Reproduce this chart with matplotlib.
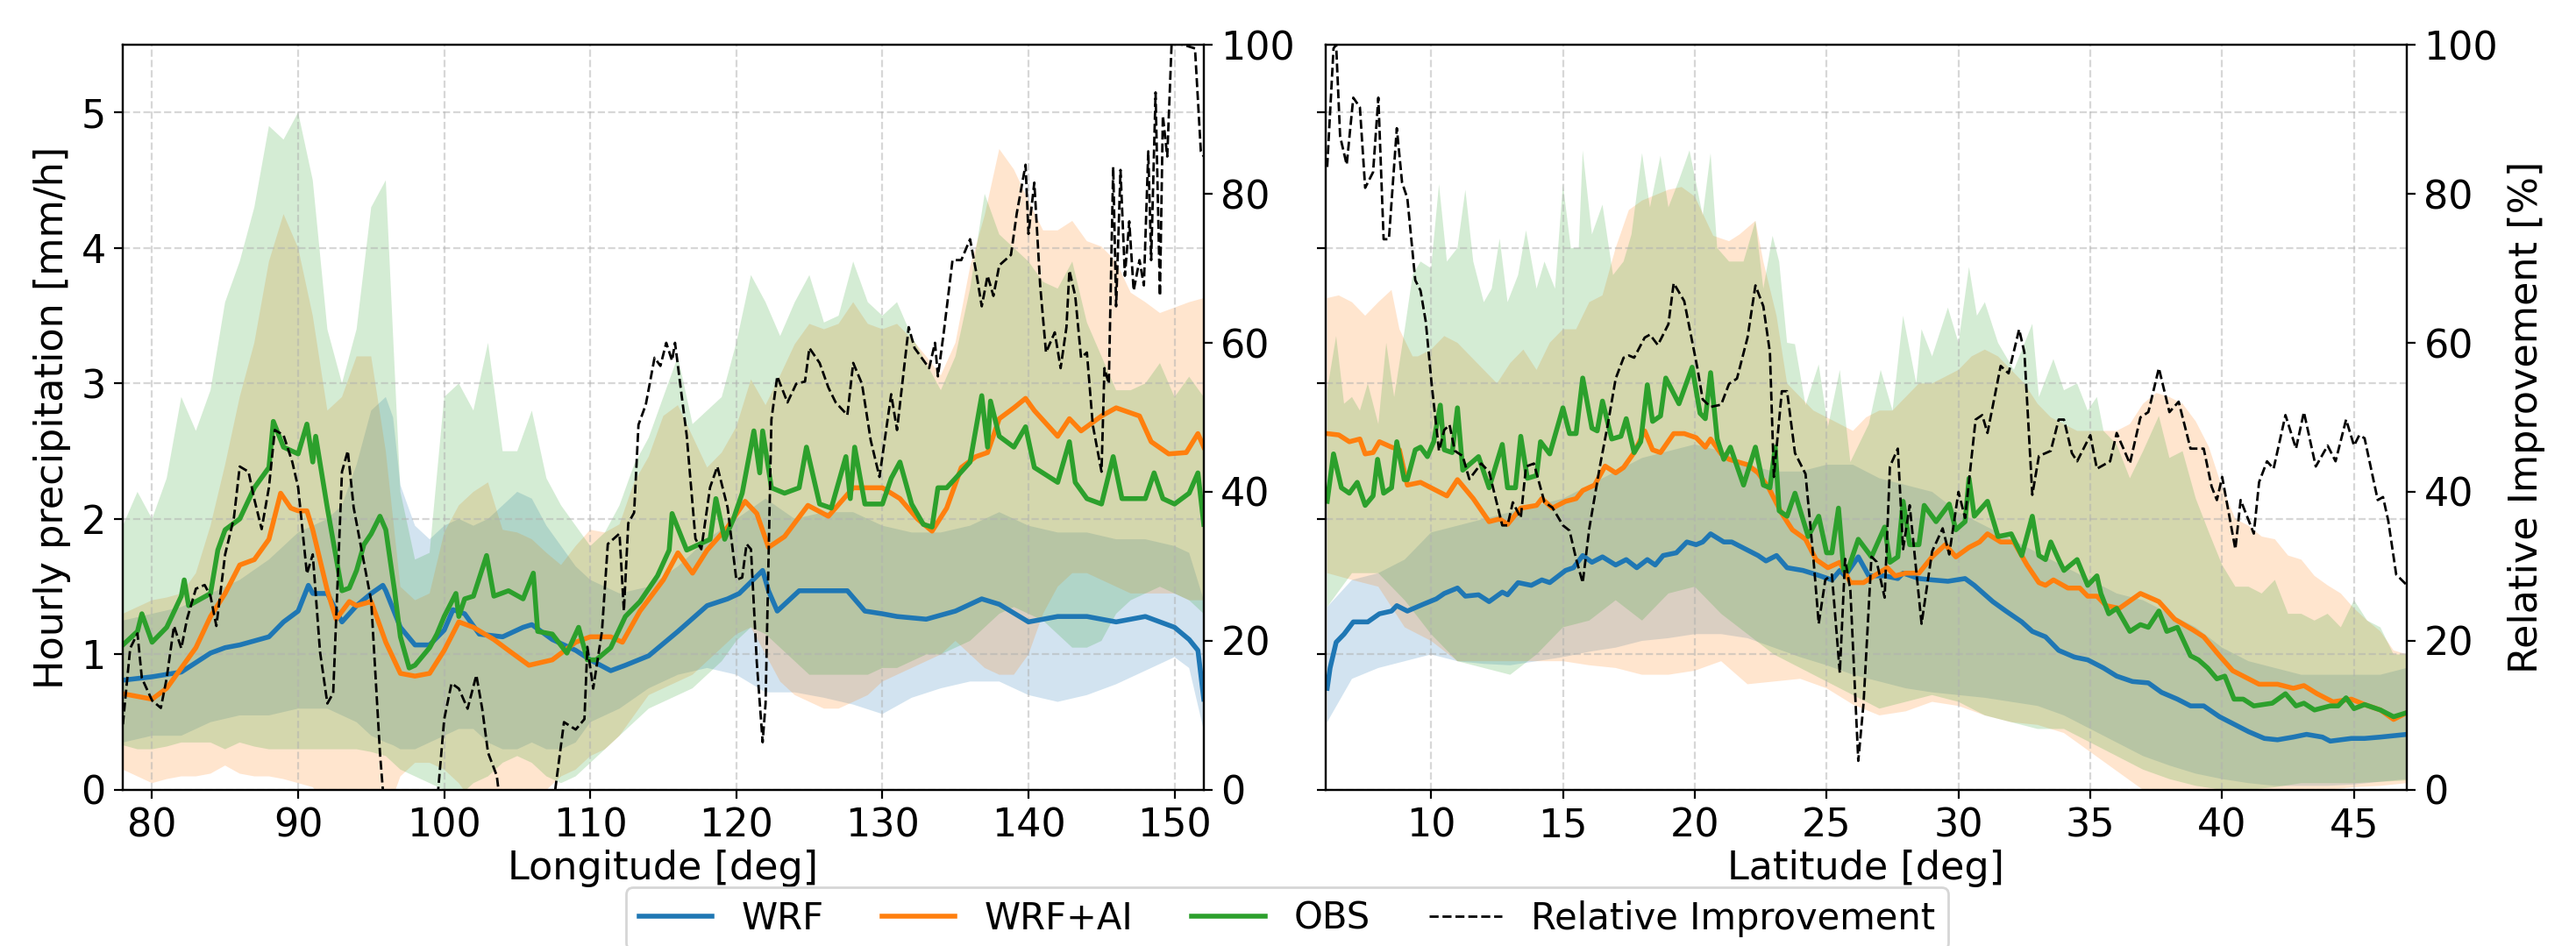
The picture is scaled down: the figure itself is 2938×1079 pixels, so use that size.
import numpy as np
import matplotlib
matplotlib.use("Agg")
import matplotlib.pyplot as plt

# ---- longitude panel: mean lines ----
lon_wrf = [78, 80, 82, 84, 85, 86, 88, 89, 90, 90.7, 91, 92, 93, 94, 95, 95.8, 96, 97, 98, 99,
           100, 100.6, 101.4, 102.4, 104, 105.4, 106, 107.4, 109, 110, 111.4, 112.4, 114, 116, 118, 119.4, 120.2, 121.8, 122.2, 122.8,
           124.3, 126, 127.6, 128.8, 130, 131, 133, 135, 136.8, 138, 140, 142, 144, 146, 148, 150, 151, 151.6, 152]
wrf_lon = [0.81, 0.835, 0.87, 1.01, 1.05, 1.07, 1.13, 1.24, 1.32, 1.51, 1.45, 1.45, 1.24, 1.36, 1.45, 1.51, 1.47, 1.20, 1.07, 1.07,
           1.18, 1.33, 1.30, 1.15, 1.13, 1.20, 1.22, 1.11, 1.03, 0.96, 0.88, 0.92, 0.99, 1.17, 1.36, 1.41, 1.45, 1.62, 1.47, 1.32,
           1.47, 1.47, 1.47, 1.32, 1.30, 1.28, 1.26, 1.32, 1.41, 1.37, 1.24, 1.28, 1.28, 1.24, 1.28, 1.20, 1.11, 1.03, 0.67]

lon_ai = [78, 80, 81, 82, 83, 84, 85, 86, 87, 88, 88.8, 89.5, 90, 90.6, 91, 92, 92.6, 93.5, 94, 95,
          96, 97, 98, 99, 100, 101, 102, 103.4, 104.4, 105.8, 107.4, 109, 110, 111.4, 112.2, 113.4, 115, 116, 117, 118,
          119.4, 120.6, 121.4, 122.2, 123.3, 124.9, 126.3, 128, 130, 131.2, 132.4, 133.4, 134.4, 135.4, 136.4, 137.2, 138, 139, 139.8, 140.4,
          142, 142.8, 143.6, 145, 146, 147.6, 148.4, 149.6, 150.8, 151.6, 152]
ai_lon = [0.71, 0.67, 0.75, 0.90, 1.05, 1.28, 1.45, 1.66, 1.70, 1.85, 2.19, 2.08, 2.06, 2.06, 1.92, 1.47, 1.26, 1.39, 1.36, 1.39,
          1.09, 0.86, 0.84, 0.86, 1.03, 1.24, 1.20, 1.11, 1.03, 0.92, 0.96, 1.09, 1.13, 1.13, 1.09, 1.32, 1.55, 1.75, 1.60, 1.77,
          1.94, 2.13, 2.04, 1.79, 1.87, 2.10, 2.02, 2.23, 2.23, 2.15, 2.00, 1.91, 2.08, 2.38, 2.46, 2.49, 2.74, 2.82, 2.89, 2.80,
          2.61, 2.74, 2.65, 2.76, 2.82, 2.76, 2.57, 2.48, 2.49, 2.63, 2.53]

lon_obs = [78, 79, 79.3, 80, 81, 82, 82.2, 82.5, 83, 84, 84.5, 85, 86, 87, 88, 88.3, 89, 90, 90.6, 91,
           91.2, 92, 93, 93.5, 94, 94.5, 95, 95.6, 96, 96.6, 97, 97.6, 98, 99, 99.5, 100, 100.8, 101, 101.4, 102,
           102.9, 103.4, 104.4, 105.4, 106.1, 106.4, 107.4, 108.4, 109.2, 109.8, 110.4, 111.4, 112.4, 113.4, 114.6, 115.4, 115.6, 116.6, 117.4, 118.2,
           118.6, 119.2, 119.8, 120.4, 121.2, 121.6, 121.8, 122.4, 123.3, 124.3, 124.8, 125.7, 126.5, 127.5, 127.8, 128.1, 128.8, 130, 130.6, 131.2,
           132, 132.8, 133.4, 133.8, 134.4, 135, 136, 136.8, 137.2, 137.4, 138, 139, 139.8, 140.4, 142, 142.8, 143.2, 144, 145, 145.8,
           146.4, 148, 148.6, 149.2, 150, 151, 151.6, 152]
obs_lon = [1.07, 1.17, 1.30, 1.09, 1.20, 1.43, 1.55, 1.36, 1.39, 1.45, 1.77, 1.92, 2.00, 2.23, 2.38, 2.72, 2.53, 2.48, 2.70, 2.42,
           2.61, 2.08, 1.47, 1.49, 1.62, 1.81, 1.89, 2.02, 1.92, 1.47, 1.13, 0.90, 0.92, 1.05, 1.15, 1.28, 1.45, 1.28, 1.41, 1.43,
           1.73, 1.43, 1.47, 1.41, 1.60, 1.17, 1.15, 1.01, 1.20, 0.96, 0.96, 1.05, 1.28, 1.39, 1.58, 1.77, 2.04, 1.77, 1.81, 1.85,
           2.15, 1.85, 2.00, 2.19, 2.65, 2.34, 2.65, 2.23, 2.19, 2.23, 2.53, 2.11, 2.08, 2.46, 2.15, 2.53, 2.11, 2.11, 2.30, 2.42,
           2.11, 1.96, 1.94, 2.23, 2.23, 2.30, 2.42, 2.91, 2.53, 2.87, 2.61, 2.53, 2.68, 2.38, 2.27, 2.57, 2.27, 2.15, 2.11, 2.46,
           2.15, 2.15, 2.34, 2.15, 2.11, 2.19, 2.34, 1.96]

lon_ri = [78, 78.5, 79, 79.3, 80, 80.6, 81, 81.5, 82, 82.4, 83, 83.6, 84, 84.4, 85, 85.6, 86, 86.6, 87, 87.5,
          88, 88.4, 89, 89.6, 90, 90.6, 91, 91.5, 92, 92.4, 93, 93.4, 93.8, 94.4, 95, 95.6, 96.2, 98, 99.5, 100,
          100.5, 101, 101.6, 102.2, 102.6, 103, 103.6, 104.2, 107.4, 108.2, 109, 109.6, 109.8, 110.2, 110.8, 111.2, 112, 112.3, 112.6, 113,
          113.3, 113.8, 114.4, 114.8, 115.2, 115.6, 115.8, 116.2, 116.6, 117.2, 117.6, 118.2, 118.7, 119.4, 120, 120.4, 120.7, 121, 121.4, 121.8,
          122, 122.4, 122.8, 123.5, 124.1, 124.7, 125, 125.7, 126.3, 126.8, 127.6, 128, 128.6, 129.2, 129.8, 130.6, 131, 131.8, 132.2, 133.2,
          133.6, 133.8, 134.2, 134.8, 135.4, 136, 136.4, 136.8, 137.2, 137.6, 138, 138.8, 139.2, 139.8, 140, 140.4, 140.8, 141.2, 141.8, 142.2,
          142.6, 142.8, 143.2, 143.6, 144, 144.4, 145, 145.2, 145.5, 145.8, 146, 146.3, 146.6, 146.9, 147.2, 147.6, 147.9, 148.2, 148.4, 148.7,
          149, 149.2, 149.5, 149.8, 150.6, 151.4, 151.8, 152]
ri_lon = [8.8, 19, 21, 15, 12, 11, 15, 22, 19, 23, 27, 27.5, 26, 22, 31.6, 36.5, 43.4, 42.7, 39, 35,
          40.6, 48.3, 47.6, 44, 40.6, 29, 31.6, 18.5, 11.6, 13, 42.7, 45.5, 37.9, 31.6, 25.4, 5, -10, -15, -2, 9.5,
          14.3, 13.6, 10.9, 15.4, 10.9, 5, 1.9, -8, -3, 9.1, 8.1, 9.5, 19.2, 13.6, 21.3, 33, 34.4, 24, 35.8, 37.2,
          49, 51.7, 58, 56.9, 60, 57.6, 60, 53.8, 47.6, 33.7, 32.3, 40.6, 43.4, 37.9, 28.2, 28.5, 33, 32.3, 17.1, 6.4,
          11.6, 49.7, 55.5, 52, 54.5, 54.8, 59.3, 57.3, 54, 52, 50.3, 57.3, 54.5, 46.9, 42, 53.1, 48.3, 62.1, 59.3, 56.6,
          60, 55.5, 61.4, 71.1, 71.1, 73.9, 69.7, 64.9, 69, 66.3, 70.4, 71.8, 77.4, 83.9, 74.6, 81.5, 67.7, 58.7, 61.4, 56.6,
          62.1, 69.7, 66.3, 58, 58.7, 49, 42.7, 56.6, 54.5, 83.6, 64.9, 83.2, 69, 76.3, 67, 71.1, 67.7, 85.7, 71.1, 93.6,
          66.3, 90.5, 85, 100.2, 100, 99.5, 85.7, 85]

# ---- longitude panel: spread bands ----
band_lon = list(range(78, 153))
obs_up_lon = [1.95, 2.2, 2.0, 2.3, 2.9, 2.65, 2.95, 3.6, 3.9, 4.3, 4.9, 4.8, 5.0, 4.5, 3.4, 3.0, 3.4, 4.3, 4.5, 2.2,
              1.7, 1.75, 2.9, 3.0, 2.8, 3.3, 2.5, 2.5, 2.8, 2.3, 2.1, 1.95, 1.8, 1.9, 2.1, 2.4, 2.6, 2.9, 3.2, 2.7,
              2.8, 2.9, 3.3, 3.8, 3.6, 3.35, 3.6, 3.8, 3.45, 3.5, 3.9, 3.6, 3.5, 3.6, 3.35, 3.15, 2.95, 3.2, 3.7, 4.4,
              4.1, 4.0, 3.9, 3.75, 3.7, 3.9, 3.45, 3.2, 2.95, 2.95, 3.0, 3.15, 2.9, 3.05, 2.9]
obs_lo_lon = [0.33, 0.3, 0.3, 0.32, 0.35, 0.35, 0.35, 0.3, 0.35, 0.32, 0.3, 0.3, 0.3, 0.3, 0.3, 0.3, 0.3, 0.28, 0.25, 0.15,
              0.1, 0.05, 0.0, -0.05, 0.05, 0.1, 0.2, 0.25, 0.2, 0.1, 0.05, 0.1, 0.2, 0.3, 0.4, 0.5, 0.6, 0.65, 0.7, 0.75,
              0.85, 0.95, 1.1, 1.2, 1.15, 1.05, 0.95, 0.85, 0.85, 0.85, 0.85, 0.85, 0.9, 0.9, 0.95, 1.0, 1.0, 1.05, 1.1, 1.2,
              1.3, 1.35, 1.3, 1.25, 1.15, 1.05, 1.05, 1.1, 1.3, 1.4, 1.45, 1.5, 1.45, 1.4, 1.3]
ai_up_lon = [1.3, 1.35, 1.4, 1.42, 1.45, 1.6, 1.95, 2.4, 2.9, 3.3, 3.9, 4.25, 4.0, 3.5, 2.8, 2.9, 3.2, 3.2, 2.5, 1.5,
             1.4, 1.45, 1.9, 2.1, 2.2, 2.27, 1.92, 1.9, 1.85, 1.75, 1.66, 1.8, 1.92, 1.9, 1.96, 2.27, 2.46, 2.76, 2.84, 2.61,
             2.38, 2.49, 2.68, 3.03, 2.84, 3.06, 3.29, 3.44, 3.4, 3.44, 3.6, 3.44, 3.4, 3.44, 3.33, 3.2, 3.06, 3.3, 3.86, 4.24,
             4.73, 4.58, 4.35, 4.13, 4.13, 4.2, 4.05, 4.01, 3.9, 3.67, 3.6, 3.52, 3.56, 3.6, 3.63]
ai_lo_lon = [0.15, 0.1, 0.05, 0.08, 0.1, 0.1, 0.12, 0.18, 0.12, 0.1, 0.1, 0.08, 0.05, 0.02, -0.1, -0.2, -0.2, -0.2, -0.2, 0.1,
             0.2, 0.2, 0.15, 0.05, -0.1, -0.2, -0.2, -0.15, -0.1, 0.0, 0.1, 0.15, 0.25, 0.3, 0.4, 0.55, 0.7, 0.75, 0.8, 0.85,
             0.95, 1.05, 1.15, 1.2, 1.0, 0.8, 0.7, 0.65, 0.6, 0.6, 0.65, 0.7, 0.8, 0.85, 0.9, 0.95, 1.0, 1.1, 1.0, 0.9,
             0.85, 0.85, 1.0, 1.3, 1.5, 1.6, 1.6, 1.55, 1.5, 1.45, 1.45, 1.45, 1.45, 1.4, 1.4]
band_lon_wrf = [78, 80, 82, 84, 86, 88, 90, 92, 93, 94, 95, 96, 96.5, 97, 98, 99, 100, 101, 102, 103,
                104, 105, 106, 107, 108, 109, 110, 112, 114, 116, 118, 120, 122, 124, 126, 128, 130, 132, 134, 136,
                138, 140, 142, 144, 146, 148, 150, 151, 152]
wrf_up_lon = [1.25, 1.3, 1.35, 1.45, 1.55, 1.7, 1.9, 2.0, 2.1, 2.4, 2.8, 2.9, 2.75, 2.25, 1.95, 1.85, 1.95, 2.0, 1.95, 2.0,
              2.1, 2.2, 2.15, 1.95, 1.8, 1.65, 1.55, 1.45, 1.5, 1.65, 1.85, 2.0, 2.15, 2.0, 2.05, 2.05, 1.95, 1.9, 1.9, 1.95,
              2.05, 1.95, 1.9, 1.9, 1.85, 1.85, 1.8, 1.75, 1.4]
wrf_lo_lon = [0.35, 0.4, 0.4, 0.5, 0.55, 0.55, 0.6, 0.6, 0.55, 0.5, 0.4, 0.35, 0.33, 0.3, 0.3, 0.35, 0.4, 0.45, 0.45, 0.35,
              0.3, 0.3, 0.35, 0.3, 0.3, 0.35, 0.5, 0.6, 0.75, 0.85, 0.9, 0.85, 0.72, 0.72, 0.68, 0.63, 0.56, 0.68, 0.75, 0.8,
              0.8, 0.7, 0.65, 0.7, 0.78, 0.88, 0.98, 0.9, 0.44]

# ---- latitude panel: mean lines ----
lat_wrf = [6.06, 6.17, 6.4, 6.7, 7.05, 7.6, 8.04, 8.5, 8.7, 9.1, 9.7, 10.2, 10.5, 11, 11.3, 11.8, 12.2, 12.7, 12.9, 13.3,
           13.8, 14.2, 14.5, 15.1, 15.4, 15.75, 16.1, 16.5, 17, 17.4, 17.8, 18.2, 18.5, 18.8, 19.3, 19.7, 20.05, 20.3, 20.6, 21.1,
           21.4, 22, 22.4, 22.7, 23.1, 23.5, 24.1, 24.6, 25.2, 25.5, 25.7, 26.2, 26.6, 27.2, 27.7, 27.9, 28.5, 29, 29.6, 30.25,
           30.6, 31.3, 31.8, 32.4, 32.8, 33.3, 33.8, 34.4, 34.9, 35.5, 36, 36.6, 37.2, 37.7, 38.3, 38.8, 39.3, 39.9, 40.5, 41,
           41.6, 42.1, 42.7, 43.2, 43.8, 44.1, 44.9, 45.4, 46, 47]
wrf_lat = [0.75, 0.90, 1.09, 1.15, 1.24, 1.24, 1.30, 1.32, 1.36, 1.32, 1.37, 1.41, 1.45, 1.49, 1.43, 1.44, 1.39, 1.46, 1.44, 1.53,
           1.51, 1.55, 1.53, 1.62, 1.64, 1.73, 1.68, 1.72, 1.66, 1.70, 1.64, 1.70, 1.66, 1.73, 1.75, 1.83, 1.81, 1.83, 1.89, 1.83,
           1.83, 1.77, 1.73, 1.69, 1.73, 1.64, 1.62, 1.59, 1.55, 1.62, 1.58, 1.72, 1.58, 1.58, 1.56, 1.60, 1.56, 1.55, 1.54, 1.56,
           1.51, 1.39, 1.32, 1.24, 1.17, 1.13, 1.03, 0.98, 0.96, 0.90, 0.84, 0.80, 0.79, 0.72, 0.67, 0.62, 0.62, 0.54, 0.48, 0.43,
           0.38, 0.37, 0.39, 0.41, 0.39, 0.36, 0.38, 0.38, 0.39, 0.41]

lat_ai = [6.06, 6.5, 6.9, 7.3, 7.5, 7.8, 8.04, 8.5, 8.8, 9.1, 9.6, 10, 10.6, 11, 11.6, 12.2, 12.6, 12.9, 13.4, 14,
          14.2, 14.6, 15.1, 15.5, 15.75, 16.2, 16.6, 17, 17.3, 17.7, 18.1, 18.4, 18.7, 19.2, 19.6, 20.05, 20.4, 20.6, 21, 21.3,
          22, 22.4, 22.8, 23.3, 23.7, 24.2, 24.6, 25.05, 25.5, 25.9, 26.4, 26.8, 27.3, 27.6, 28, 28.5, 29, 29.5, 29.9, 30.4,
          30.8, 31.1, 31.6, 32.1, 32.6, 33.05, 33.3, 33.6, 34.15, 34.6, 34.9, 35.25, 35.6, 36.1, 36.9, 37.6, 38.2, 38.9, 39.3, 39.9,
          40.4, 41, 41.4, 42.1, 42.7, 43.1, 43.6, 44.2, 44.9, 45.4, 46, 46.5, 47]
ai_lat = [2.63, 2.62, 2.57, 2.59, 2.48, 2.49, 2.57, 2.53, 2.51, 2.25, 2.27, 2.23, 2.17, 2.29, 2.15, 1.98, 2.0, 1.96, 2.08, 2.10,
          2.15, 2.08, 2.13, 2.15, 2.21, 2.25, 2.39, 2.34, 2.38, 2.49, 2.65, 2.51, 2.49, 2.63, 2.63, 2.60, 2.53, 2.59, 2.48, 2.44,
          2.40, 2.34, 2.23, 2.04, 1.92, 1.85, 1.70, 1.64, 1.68, 1.53, 1.53, 1.58, 1.64, 1.58, 1.60, 1.60, 1.72, 1.81, 1.72, 1.79,
          1.83, 1.89, 1.83, 1.83, 1.66, 1.53, 1.51, 1.55, 1.49, 1.49, 1.43, 1.43, 1.36, 1.34, 1.45, 1.39, 1.26, 1.18, 1.13, 0.99,
          0.88, 0.82, 0.78, 0.78, 0.75, 0.77, 0.71, 0.65, 0.67, 0.63, 0.59, 0.52, 0.57]

lat_obs = [6.06, 6.3, 6.6, 6.9, 7.2, 7.5, 7.8, 7.97, 8.2, 8.5, 8.7, 8.98, 9.1, 9.4, 9.6, 9.86, 10.1, 10.35, 10.5, 10.8,
           11.0, 11.2, 11.8, 12.2, 12.7, 12.9, 13.2, 13.4, 13.65, 14.0, 14.15, 14.5, 15.0, 15.25, 15.5, 15.75, 16.1, 16.3, 16.5, 16.85,
           17.2, 17.4, 17.7, 17.95, 18.2, 18.4, 18.7, 18.9, 19.4, 19.9, 20.2, 20.4, 20.6, 20.85, 21.1, 21.35, 21.85, 22.3, 22.6, 22.85,
           23.05, 23.2, 23.5, 23.8, 24.3, 24.7, 25.0, 25.2, 25.45, 25.65, 25.8, 26.2, 26.7, 27.2, 27.4, 27.7, 27.9, 28.15, 28.5, 28.7,
           29.15, 29.65, 29.9, 30.25, 30.4, 30.6, 31.1, 31.5, 32.0, 32.4, 32.8, 33.05, 33.3, 33.5, 33.8, 34.0, 34.5, 34.9, 35.25, 35.4,
           35.7, 36.0, 36.5, 36.9, 37.2, 37.6, 37.9, 38.3, 38.8, 39.1, 39.45, 39.8, 40.1, 40.45, 40.8, 41.2, 41.9, 42.4, 42.8, 43.1,
           43.5, 44.1, 44.4, 44.7, 45.0, 45.4, 46.0, 46.5, 47.0]
obs_lat = [2.13, 2.48, 2.23, 2.19, 2.27, 2.10, 2.17, 2.44, 2.19, 2.23, 2.57, 2.29, 2.29, 2.51, 2.53, 2.46, 2.57, 2.84, 2.51, 2.49,
           2.82, 2.36, 2.46, 2.23, 2.55, 2.23, 2.23, 2.61, 2.30, 2.32, 2.57, 2.48, 2.82, 2.63, 2.63, 3.04, 2.67, 2.65, 2.87, 2.59,
           2.61, 2.74, 2.49, 2.57, 2.99, 2.72, 2.76, 3.04, 2.85, 3.12, 2.78, 2.74, 3.08, 2.59, 2.44, 2.53, 2.25, 2.53, 2.25, 2.23,
           2.53, 2.06, 2.02, 2.19, 1.87, 2.02, 1.75, 1.75, 2.08, 1.62, 1.62, 1.85, 1.72, 1.94, 1.68, 1.72, 2.13, 1.81, 1.81, 2.10,
           1.98, 2.11, 1.92, 1.98, 2.30, 2.02, 2.13, 1.87, 1.89, 1.73, 2.02, 1.73, 1.70, 1.83, 1.70, 1.62, 1.70, 1.51, 1.58, 1.45,
           1.30, 1.34, 1.17, 1.22, 1.20, 1.32, 1.17, 1.20, 0.99, 0.96, 0.90, 0.82, 0.84, 0.67, 0.67, 0.62, 0.64, 0.71, 0.62, 0.64,
           0.59, 0.62, 0.62, 0.68, 0.60, 0.63, 0.59, 0.54, 0.57]

lat_ri = [6.06, 6.3, 6.4, 6.55, 6.8, 7.05, 7.3, 7.5, 7.8, 8.0, 8.2, 8.4, 8.7, 8.9, 9.1, 9.4, 9.6, 9.8, 10.02, 10.3,
          10.5, 10.7, 10.9, 11.2, 11.45, 11.9, 12.2, 12.7, 12.9, 13.1, 13.4, 13.6, 13.9, 14.3, 14.6, 15.0, 15.25, 15.5, 15.75, 16.0,
          16.4, 16.7, 17.0, 17.3, 17.5, 17.7, 18.1, 18.3, 18.6, 19.0, 19.2, 19.6, 20.1, 20.3, 20.6, 21.0, 21.3, 21.6, 22.0, 22.3,
          22.6, 22.85, 23.0, 23.3, 23.5, 23.8, 24.2, 24.5, 24.7, 24.95, 25.2, 25.5, 25.7, 25.9, 26.2, 26.4, 26.7, 26.9, 27.2, 27.4,
          27.7, 27.9, 28.15, 28.6, 29.0, 29.4, 29.65, 30.0, 30.25, 30.65, 30.9, 31.1, 31.6, 31.9, 32.3, 32.5, 32.8, 33.05, 33.5, 33.8,
          34.0, 34.3, 34.5, 35.0, 35.25, 35.75, 36.0, 36.5, 36.9, 37.2, 37.6, 38.0, 38.35, 38.8, 39.3, 39.6, 39.8, 40.0, 40.5, 40.7,
          41.2, 41.4, 41.7, 41.95, 42.4, 42.8, 43.1, 43.55, 44.0, 44.3, 44.7, 45.0, 45.2, 45.4, 45.9, 46.1, 46.3, 46.6, 47.0]
ri_lat = [83.6, 99.5, 100, 87.7, 83.9, 92.9, 91.6, 80.8, 82.9, 92.9, 73.9, 73.9, 88.8, 81.5, 79.4, 68.4, 67, 62.8, 54.5, 45.5,
          48.3, 49, 45.5, 44.8, 41.7, 43.8, 42.7, 35.5, 35.5, 38.6, 36.5, 43.4, 43.8, 38.6, 37.9, 35.5, 34.8, 31, 27.8, 35.1,
          43.4, 49, 55.2, 58, 58.3, 58, 60.7, 61.1, 59.7, 62.5, 68, 65.6, 56.6, 52.4, 51.4, 51.7, 54.5, 55.2, 60.7, 67.7,
          64.9, 58.7, 42, 53.5, 53.5, 45.2, 42.4, 31, 22.3, 28.2, 28.9, 15.7, 31, 26.8, 3.9, 11.6, 31.3, 30.6, 25.8, 43.4,
          45.8, 32.3, 38.2, 22.3, 32, 35.1, 31.6, 40, 36.5, 49.7, 50.3, 47.9, 56.9, 55.9, 61.8, 58.7, 39.6, 44.8, 45.5, 49.7,
          49.7, 45.2, 44.1, 47.6, 43.1, 44.1, 47.9, 43.8, 50, 50.7, 56.6, 50.7, 52.1, 45.8, 45.8, 40.7, 38.9, 42, 32.3, 38.9,
          34.4, 41.3, 44.1, 43.1, 50.3, 45.8, 50.7, 43.4, 46.2, 44.1, 49.7, 46.2, 47.6, 47.2, 38.9, 39.3, 36.1, 28.9, 27.5]

# ---- latitude panel: spread bands ----
lat_obs_up = [6.06, 6.4, 6.7, 7.0, 7.3, 7.6, 8.0, 8.3, 8.6, 9.0, 9.3, 9.6, 10.0, 10.3, 10.6, 11.0, 11.3, 11.6, 12.0, 12.3,
              12.6, 12.9, 13.3, 13.6, 14.0, 14.3, 14.7, 15.0, 15.3, 15.6, 15.75, 16.1, 16.5, 16.9, 17.3, 17.6, 18.0, 18.3, 18.7, 19.0,
              19.4, 19.8, 20.3, 20.6, 20.85, 21.3, 21.85, 22.3, 22.6, 22.95, 23.2, 23.5, 23.8, 24.2, 24.7, 25.05, 25.5, 25.9, 26.6, 27.05,
              27.5, 27.9, 28.4, 28.6, 29.0, 29.6, 30.0, 30.4, 30.7, 31.0, 31.5, 32.1, 32.8, 33.05, 33.6, 34.0, 34.5, 34.9, 35.25, 35.5,
              36.0, 36.5, 37.0, 37.6, 38.0, 38.5, 39.0, 39.5, 40.0, 40.5, 41.0, 41.5, 42.0, 42.5, 43.0, 43.5, 44.0, 44.5, 45.0, 45.5,
              46.0, 46.5, 47.0]
obs_up_lat = [2.95, 3.35, 2.85, 2.9, 2.8, 3.0, 2.7, 3.3, 2.9, 3.4, 3.8, 3.9, 3.85, 4.47, 3.9, 4.0, 4.43, 3.9, 3.6, 3.7,
              4.07, 3.6, 3.8, 4.13, 3.7, 3.9, 3.7, 4.47, 4.0, 4.0, 4.72, 4.1, 4.32, 3.8, 3.9, 4.1, 4.7, 4.3, 4.68, 4.3,
              4.5, 4.72, 4.24, 4.7, 4.0, 3.9, 3.9, 4.2, 3.7, 4.09, 3.9, 3.3, 3.29, 2.84, 3.14, 2.68, 3.1, 2.42, 2.7, 3.1,
              2.8, 3.5, 3.0, 3.4, 3.2, 3.56, 3.3, 3.86, 3.5, 3.6, 3.3, 3.1, 3.44, 2.9, 3.18, 2.95, 3.0, 2.8, 2.9, 2.65,
              2.55, 2.3, 2.5, 2.76, 2.45, 2.5, 2.15, 1.9, 1.66, 1.5, 1.5, 1.45, 1.55, 1.3, 1.3, 1.25, 1.3, 1.2, 1.4, 1.25,
              1.2, 1.0, 1.0]
lat_ai_up = [6.06, 6.5, 7.0, 7.5, 8.0, 8.5, 8.8, 9.3, 9.5, 10.0, 10.5, 11.0, 11.5, 12.0, 12.5, 13.0, 13.5, 14.0, 14.5, 15.0,
             15.5, 16.0, 16.5, 17.0, 17.5, 18.0, 18.5, 19.0, 19.5, 20.0, 20.7, 21.3, 21.7, 22.3, 22.6, 23.1, 23.5, 24.0, 24.5, 25.0,
             25.5, 26.0, 26.5, 27.0, 27.5, 28.0, 28.5, 29.0, 29.5, 30.0, 30.5, 31.0, 31.5, 32.0, 32.5, 33.0, 33.5, 34.0, 34.5, 35.0,
             35.5, 36.0, 36.5, 37.0, 37.5, 38.0, 38.5, 39.0, 39.5, 40.0, 40.5, 41.0, 41.5, 42.0, 42.5, 43.0, 43.5, 44.0, 44.5, 45.0,
             45.5, 46.0, 46.5, 47.0]
ai_up_lat = [3.63, 3.65, 3.6, 3.5, 3.6, 3.69, 3.4, 3.2, 3.2, 3.25, 3.35, 3.3, 3.2, 3.1, 3.0, 3.15, 3.25, 3.1, 3.3, 3.4,
             3.4, 3.6, 3.65, 4.0, 4.28, 4.35, 4.39, 4.43, 4.45, 4.38, 4.09, 4.05, 4.1, 4.2, 3.9, 3.5, 3.0, 2.9, 2.8, 2.75,
             2.7, 2.65, 2.75, 2.8, 2.8, 2.9, 3.0, 3.0, 3.05, 3.1, 3.2, 3.25, 3.2, 3.1, 3.0, 2.85, 2.75, 2.7, 2.65, 2.65,
             2.65, 2.65, 2.7, 2.85, 2.93, 2.9, 2.85, 2.72, 2.53, 2.23, 2.0, 1.95, 1.87, 1.85, 1.73, 1.7, 1.58, 1.51, 1.45, 1.34,
             1.25, 1.17, 1.03, 1.0]
band_lat = [6.06] + list(range(7, 48))
obs_lo_lat = [1.35, 1.6, 1.6, 1.4, 1.15, 0.95, 0.9, 0.85, 1.0, 1.2, 1.25, 1.4, 1.25, 1.45, 1.5, 1.3, 1.15, 1.0, 0.9, 0.8,
              0.7, 0.6, 0.65, 0.7, 0.65, 0.55, 0.5, 0.45, 0.45, 0.35, 0.25, 0.15, 0.08, 0.03, 0.0, 0.0, 0.02, 0.05, 0.05, 0.05,
              0.06, 0.07]
ai_lo_lat = [1.6, 1.55, 1.5, 1.2, 1.1, 0.95, 0.95, 0.95, 0.95, 0.95, 0.92, 0.9, 0.85, 0.85, 0.88, 0.95, 0.78, 0.8, 0.82, 0.75,
             0.63, 0.55, 0.58, 0.65, 0.62, 0.55, 0.5, 0.48, 0.42, 0.28, 0.14, 0.0, -0.1, -0.15, -0.2, -0.2, -0.2, -0.1, 0.0, 0.02,
             0.03, 0.05]
wrf_up_lat = [1.35, 1.55, 1.6, 1.7, 1.9, 1.95, 2.0, 2.05, 2.1, 2.15, 2.25, 2.35, 2.45, 2.5, 2.55, 2.5, 2.4, 2.35, 2.35, 2.4,
              2.4, 2.3, 2.25, 2.2, 2.05, 1.95, 1.85, 1.75, 1.65, 1.55, 1.45, 1.4, 1.3, 1.2, 1.05, 0.95, 0.9, 0.85, 0.85, 0.85,
              0.85, 0.9]
wrf_lo_lat = [0.5, 0.82, 0.9, 0.95, 1.0, 0.95, 0.93, 0.92, 0.95, 0.98, 1.02, 1.05, 1.1, 1.12, 1.15, 1.15, 1.12, 1.05, 0.98, 0.92,
              0.85, 0.8, 0.75, 0.72, 0.7, 0.68, 0.65, 0.62, 0.55, 0.45, 0.35, 0.25, 0.18, 0.12, 0.08, 0.05, 0.03, 0.03, 0.03, 0.04,
              0.06, 0.08]

c_wrf, c_ai, c_obs = "tab:blue", "tab:orange", "tab:green"
fs = 16


def band(ax, xu, up, xl, lo, color):
    # polygon: upper edge left to right, lower edge back
    ax.fill(list(xu) + list(xl)[::-1], list(up) + list(lo)[::-1], color=color, alpha=0.2, lw=0)


fig = plt.figure(figsize=(14.69, 5.395), dpi=200)
ax1 = fig.add_axes([0.0477, 0.165, 0.4196, 0.7877])
ax2 = fig.add_axes([0.5146, 0.165, 0.4197, 0.7877])

# left panel
band(ax1, band_lon_wrf, wrf_up_lon, band_lon_wrf, wrf_lo_lon, c_wrf)
band(ax1, band_lon, ai_up_lon, band_lon, ai_lo_lon, c_ai)
band(ax1, band_lon, obs_up_lon, band_lon, obs_lo_lon, c_obs)
l1, = ax1.plot(lon_wrf, wrf_lon, color=c_wrf, lw=2, label="WRF")
l2, = ax1.plot(lon_ai, ai_lon, color=c_ai, lw=2, label="WRF+AI")
l3, = ax1.plot(lon_obs, obs_lon, color=c_obs, lw=2, label="OBS")
ax1.set_xlim(78, 152)
ax1.set_ylim(0, 5.5)
ax1.set_xlabel("Longitude [deg]", fontsize=fs, labelpad=2)
ax1.set_ylabel("Hourly precipitation [mm/h]", fontsize=fs)
ax1.grid(True, ls="--", alpha=0.5)
ax1.tick_params(labelsize=fs)
ax1b = ax1.twinx()
l4, = ax1b.plot(lon_ri, ri_lon, color="black", ls="--", lw=1, label="Relative Improvement")
ax1b.set_ylim(0, 100)
ax1b.tick_params(labelsize=fs)

# right panel
band(ax2, band_lat, wrf_up_lat, band_lat, wrf_lo_lat, c_wrf)
band(ax2, lat_ai_up, ai_up_lat, band_lat, ai_lo_lat, c_ai)
band(ax2, lat_obs_up, obs_up_lat, band_lat, obs_lo_lat, c_obs)
ax2.plot(lat_wrf, wrf_lat, color=c_wrf, lw=2)
ax2.plot(lat_ai, ai_lat, color=c_ai, lw=2)
ax2.plot(lat_obs, obs_lat, color=c_obs, lw=2)
ax2.set_xlim(6, 47)
ax2.set_ylim(0, 5.5)
ax2.set_xlabel("Latitude [deg]", fontsize=fs, labelpad=2)
ax2.grid(True, ls="--", alpha=0.5)
ax2.tick_params(labelsize=fs, labelleft=False)
ax2b = ax2.twinx()
ax2b.plot(lat_ri, ri_lat, color="black", ls="--", lw=1)
ax2b.set_ylim(0, 100)
ax2b.set_ylabel("Relative Improvement [%]", fontsize=fs)
ax2b.tick_params(labelsize=fs)

fig.legend(handles=[l1, l2, l3, l4], loc="upper center", bbox_to_anchor=(0.4997, 0.062),
           borderaxespad=0, ncol=4, fontsize=15, columnspacing=1.6, borderpad=0.35)

fig.savefig("out.png", dpi=200)
